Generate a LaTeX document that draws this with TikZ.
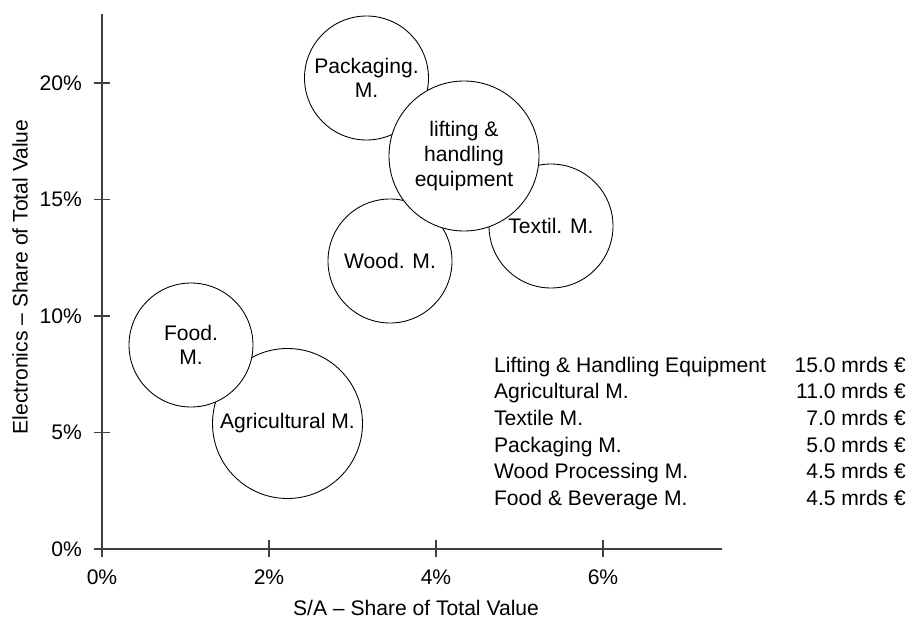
\documentclass[tikz,border=0pt]{standalone}
\usepackage{fontspec}
\setmainfont{Liberation Sans}

\begin{document}
\begin{tikzpicture}
			\tikzstyle{machine}= [
				circle, draw = black, fill = white, line width = 0.5pt,
				inner sep = 0pt, align = center,
				font = \fontsize{12}{14}\selectfont
			]
			\tikzstyle{axis}=[-,draw=black!75,line width=0.8pt]
			\tikzstyle{tick}=[-,draw=black!75,line width=0.6pt]
			\tikzstyle{label}=[font=\fontsize{12}{14}\selectfont,inner sep=1pt]
			\useasboundingbox (-2.04,-1.42) rectangle (16.14,10.98);
			% axes
			\coordinate (O) at (0,0);
			\coordinate (ytop) at (0,10.7);
			\coordinate (xend) at (12.4,0);
			\draw (ytop) to (O) [axis];
			\draw (O) to (xend) [axis];
			% y ticks
			\draw (-0.16,0) to (0.16,0) [tick];
			\draw (-0.16,2.33) to (0.16,2.33) [tick];
			\draw (-0.16,4.66) to (0.16,4.66) [tick];
			\draw (-0.16,6.99) to (0.16,6.99) [tick];
			\draw (-0.16,9.32) to (0.16,9.32) [tick];
			\node[label, anchor = east] (y0) at (-0.36,0) {0\%};
			\node[label, anchor = east] (y5) at (-0.36,2.33) {5\%};
			\node[label, anchor = east] (y10) at (-0.36,4.66) {10\%};
			\node[label, anchor = east] (y15) at (-0.36,6.99) {15\%};
			\node[label, anchor = east] (y20) at (-0.36,9.32) {20\%};
			% x ticks
			\draw (0,-0.16) to (0,0.18) [tick];
			\draw (3.34,-0.16) to (3.34,0.18) [tick];
			\draw (6.68,-0.16) to (6.68,0.18) [tick];
			\draw (10.02,-0.16) to (10.02,0.18) [tick];
			\node[label] (x0) at (0,-0.56) {0\%};
			\node[label] (x2) at (3.34,-0.56) {2\%};
			\node[label] (x4) at (6.68,-0.56) {4\%};
			\node[label] (x6) at (10.02,-0.56) {6\%};
			\node[label] (xtitle) at (6.28,-1.18) {S/A -- Share of Total Value};
			\node[label, rotate = 90] (ytitle) at (-1.64,5.44) {Electronics -- Share of Total Value};
			% machines
			\node[machine, minimum size = 2.48cm] (pack) at (5.29,9.42) {Packaging.\\M.};
			\node[machine, minimum size = 2.48cm] (wood) at (5.76,5.76) {Wood. M.};
			\node[machine, minimum size = 2.48cm] (text) at (8.98,6.46) {Textil. M.};
			\node[machine, minimum size = 3.0cm] (lift) at (7.24,7.86) {lifting \&\\handling\\equipment};
			\node[machine, minimum size = 3.0cm] (agri) at (3.71,2.51) {Agricultural M.};
			\node[machine, minimum size = 2.48cm] (food) at (1.78,4.08) {Food.\\M.};
			% legend
			\node[label, anchor = base west] (n1) at (7.8,3.54) {Lifting \& Handling Equipment};
			\node[label, anchor = base west] (n2) at (7.8,3.01) {Agricultural M.};
			\node[label, anchor = base west] (n3) at (7.8,2.48) {Textile M.};
			\node[label, anchor = base west] (n4) at (7.8,1.94) {Packaging M.};
			\node[label, anchor = base west] (n5) at (7.8,1.41) {Wood Processing M.};
			\node[label, anchor = base west] (n6) at (7.8,0.88) {Food \& Beverage M.};
			\node[label, anchor = base east] (v1) at (16.12,3.54) {15.0 mrds €};
			\node[label, anchor = base east] (v2) at (16.12,3.01) {11.0 mrds €};
			\node[label, anchor = base east] (v3) at (16.12,2.48) {7.0 mrds €};
			\node[label, anchor = base east] (v4) at (16.12,1.94) {5.0 mrds €};
			\node[label, anchor = base east] (v5) at (16.12,1.41) {4.5 mrds €};
			\node[label, anchor = base east] (v6) at (16.12,0.88) {4.5 mrds €};
		\end{tikzpicture}
\end{document}
